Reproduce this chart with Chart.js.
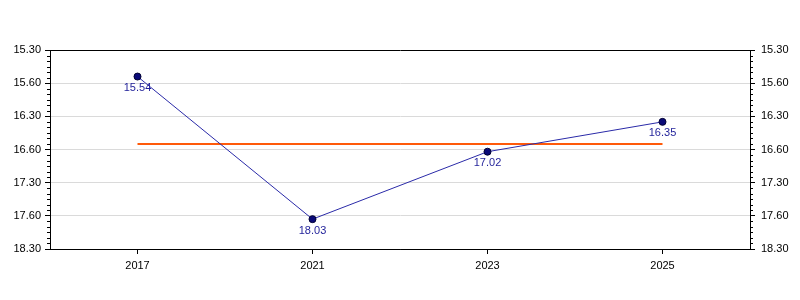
<!DOCTYPE html>
<html>
<head>
<meta charset="utf-8">
<script src="https://cdn.jsdelivr.net/npm/chart.js@4"></script>
<style>
  html, body { margin: 0; padding: 0; background: #fff; }
  #wrap { width: 800px; height: 300px; }
</style>
</head>
<body>
<div id="wrap"><canvas id="chart" width="800" height="300"></canvas></div>
<script>
// --- Data (times stored in seconds) ---
const years = ['2017', '2021', '2023', '2025'];
const times = [954, 1083, 1022, 995];     // 15:54, 18:03, 17:02, 16:35
const averageTime = 1015;                 // orange reference line
const axisMin = 930;
const axisMax = 1110;
const majorStep = 30;
const minorStep = 5;

const fontFamily = '"Liberation Sans", Arial, sans-serif';

// tick labels are written as minutes.seconds, whole minutes shown as (m-1).60
const tickLabel = (s) => {
    const m = Math.floor(s / 60);
    const sec = s % 60;
    if (sec === 0) return (m - 1) + '.60';
    return m + '.' + String(sec).padStart(2, '0');
};
const pointLabel = (s) => {
    const m = Math.floor(s / 60);
    return m + '.' + String(s % 60).padStart(2, '0');
};

// --- Plugins ---
const minorTicks = {
    id: 'minorTicks',
    afterDraw(chart) {
        const ctx = chart.ctx;
        ctx.save();
        ctx.strokeStyle = '#000';
        ctx.lineWidth = 1;
        ['y', 'y2'].forEach(id => {
            const scale = chart.scales[id];
            const left = id === 'y';
            for (let v = axisMin; v <= axisMax; v += minorStep) {
                if (v % majorStep === 0) continue;
                const py = Math.round(scale.getPixelForValue(v)) + 0.5;
                const x0 = left ? scale.right : scale.left;
                ctx.beginPath();
                ctx.moveTo(x0, py);
                ctx.lineTo(left ? x0 - 3 : x0 + 3, py);
                ctx.stroke();
            }
        });
        ctx.restore();
    }
};

const valueLabels = {
    id: 'valueLabels',
    afterDatasetsDraw(chart) {
        const ctx = chart.ctx;
        const meta = chart.getDatasetMeta(1);
        ctx.save();
        ctx.font = '11px ' + fontFamily;
        ctx.fillStyle = '#1f1f99';
        ctx.textAlign = 'center';
        ctx.textBaseline = 'top';
        meta.data.forEach((pt, i) => {
            ctx.fillText(pointLabel(times[i]), pt.x, pt.y + 6);
        });
        ctx.restore();
    }
};

// --- Chart ---
new Chart(document.getElementById('chart'), {
    type: 'line',
    data: {
        labels: years,
        datasets: [
            {
                label: 'Average',
                data: years.map(() => averageTime),
                borderColor: '#ff5a0a',
                borderWidth: 2,
                pointRadius: 0,
                fill: false,
                order: 2
            },
            {
                label: 'Time',
                data: times,
                borderColor: '#2a2aa8',
                borderWidth: 1,
                pointRadius: 3.5,
                pointBackgroundColor: '#0a0a78',
                pointBorderColor: '#000033',
                pointBorderWidth: 1,
                tension: 0,
                fill: false,
                order: 1
            }
        ]
    },
    options: {
        responsive: false,
        animation: false,
        layout: { padding: { top: 50, left: 0, right: 0, bottom: 0 } },
        plugins: {
            legend: { display: false },
            tooltip: { enabled: false }
        },
        scales: {
            x: {
                offset: true,
                grid: {
                    drawOnChartArea: false,
                    tickLength: 5,
                    tickColor: '#000',
                    offset: false
                },
                border: { color: '#000', width: 1 },
                ticks: {
                    color: '#000',
                    font: { family: fontFamily, size: 11 },
                    padding: 5
                },
                afterFit: s => { s.height = 51; }
            },
            y: {
                position: 'left',
                reverse: true,
                min: axisMin,
                max: axisMax,
                grid: {
                    color: c => (c.tick && (c.tick.value === axisMin || c.tick.value === axisMax)) ? '#000' : '#dadada',
                    tickColor: '#000',
                    tickLength: 5
                },
                border: { color: '#000', width: 1 },
                ticks: {
                    stepSize: majorStep,
                    color: '#000',
                    font: { family: fontFamily, size: 11 },
                    padding: 4,
                    callback: v => tickLabel(v)
                },
                afterFit: s => { s.width = 50; }
            },
            y2: {
                position: 'right',
                reverse: true,
                min: axisMin,
                max: axisMax,
                grid: {
                    drawOnChartArea: false,
                    tickColor: '#000',
                    tickLength: 5
                },
                border: { color: '#000', width: 1 },
                ticks: {
                    stepSize: majorStep,
                    color: '#000',
                    font: { family: fontFamily, size: 11 },
                    padding: 6,
                    callback: v => tickLabel(v)
                },
                afterFit: s => { s.width = 50; }
            }
        }
    },
    plugins: [minorTicks, valueLabels]
});
</script>
</body>
</html>
